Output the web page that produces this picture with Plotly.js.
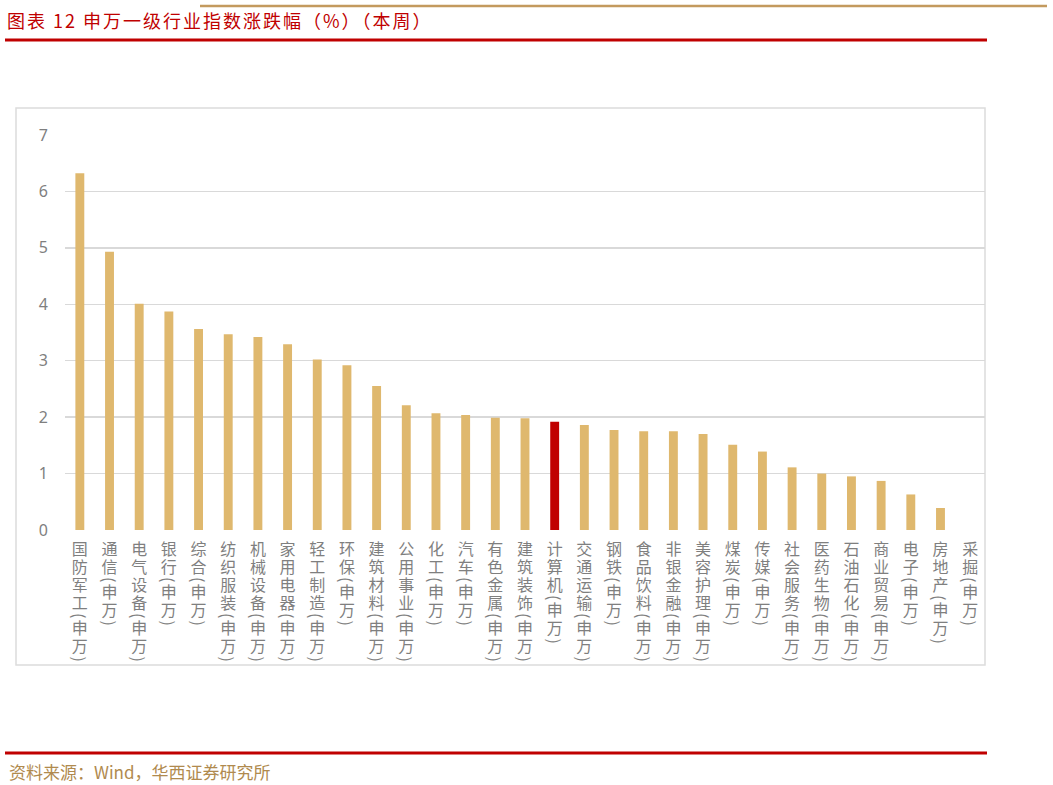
<!DOCTYPE html>
<html>
<head>
<meta charset="utf-8">
<script src="https://cdn.plot.ly/plotly-3.0.1.min.js"></script>
<style>
  html, body { margin: 0; padding: 0; background: #ffffff; }
  #chart { width: 1053px; height: 785px; }
</style>
</head>
<body>
<div id="chart"></div>
<script>
// ---- data ----
var categories = ['国防军工(申万)', '通信(申万)', '电气设备(申万)', '银行(申万)', '综合(申万)',
  '纺织服装(申万)', '机械设备(申万)', '家用电器(申万)', '轻工制造(申万)', '环保(申万)',
  '建筑材料(申万)', '公用事业(申万)', '化工(申万)', '汽车(申万)', '有色金属(申万)',
  '建筑装饰(申万)', '计算机(申万)', '交通运输(申万)', '钢铁(申万)', '食品饮料(申万)',
  '非银金融(申万)', '美容护理(申万)', '煤炭(申万)', '传媒(申万)', '社会服务(申万)',
  '医药生物(申万)', '石油石化(申万)', '商业贸易(申万)', '电子(申万)', '房地产(申万)', '采掘(申万)'];
var weeklyChange = [6.32, 4.93, 4.01, 3.87, 3.56, 3.47, 3.42, 3.29, 3.02, 2.92,
  2.55, 2.21, 2.07, 2.04, 1.99, 1.98, 1.92, 1.86, 1.77, 1.75,
  1.75, 1.70, 1.51, 1.39, 1.11, 1.00, 0.95, 0.87, 0.63, 0.39, 0.00];
var highlightCategory = '计算机(申万)';
var yTickVals = [0, 1, 2, 3, 4, 5, 6, 7];
var titleText = '图表 12 申万一级行业指数涨跌幅（%）（本周）';
var sourceText = '资料来源：Wind，华西证券研究所';

// ---- styles ----
var W = 1053, H = 785;
var M = {l: 65, r: 68, t: 135, b: 255};
var PW = W - M.l - M.r, PH = H - M.t - M.b;
function px2x(px) { return (px - M.l) / PW; }
function py2y(py) { return (H - M.b - py) / PH; }
var FONT = "'Noto Sans CJK SC', 'Noto Sans', sans-serif";
var BAR = '#dfb86e', HL = '#c00000';

var colors = categories.map(function (c) { return c === highlightCategory ? HL : BAR; });

var trace = {
  type: 'bar',
  x: categories,
  y: weeklyChange,
  marker: {color: colors, line: {width: 0}},
  width: 0.3,
  hoverinfo: 'skip'
};

var layout = {
  width: W, height: H,
  margin: M,
  paper_bgcolor: '#ffffff',
  plot_bgcolor: '#ffffff',
  showlegend: false,
  font: {family: FONT, color: '#7f7f7f'},
  title: {
    text: titleText,
    font: {family: FONT, size: 18, color: '#c00000'},
    xref: 'container', yref: 'container',
    x: 7 / W, y: 1 - 22 / H, xanchor: 'left', yanchor: 'middle'
  },
  xaxis: {
    type: 'category',
    categoryorder: 'array', categoryarray: categories,
    tickvals: categories, ticktext: categories,
    tickangle: 0,
    tickfont: {family: FONT, size: 16, color: '#7f7f7f'},
    showgrid: false, zeroline: false, showline: false, ticks: '',
    range: [-0.5, categories.length - 0.5]
  },
  yaxis: {
    range: [0, 7],
    tickvals: yTickVals,
    ticktext: yTickVals.map(String),
    tickfont: {family: "'Noto Sans', 'DejaVu Sans', sans-serif", size: 16, color: '#7f7f7f'},
    showgrid: true, gridcolor: '#d9d9d9', gridwidth: 1.3,
    zeroline: false, showline: false, ticks: '',
    ticklabelstandoff: 16
  },
  shapes: [
    // chart frame
    {type: 'rect', xref: 'paper', yref: 'paper', layer: 'below',
     x0: px2x(16), x1: px2x(985), y0: py2y(665), y1: py2y(108),
     line: {color: '#dcdcdc', width: 1.5}, fillcolor: 'rgba(0,0,0,0)'},
    // top tan rule
    {type: 'line', xref: 'paper', yref: 'paper',
     x0: px2x(200), x1: px2x(1047), y0: py2y(6), y1: py2y(6),
     line: {color: '#c39a5e', width: 2.5}},
    // red rule under the title
    {type: 'line', xref: 'paper', yref: 'paper',
     x0: px2x(5), x1: px2x(987), y0: py2y(40), y1: py2y(40),
     line: {color: '#c00000', width: 3}},
    // red rule above the source
    {type: 'line', xref: 'paper', yref: 'paper',
     x0: px2x(5), x1: px2x(987), y0: py2y(753), y1: py2y(753),
     line: {color: '#c00000', width: 3}}
  ],
  annotations: [
    {text: sourceText, xref: 'paper', yref: 'paper',
     x: px2x(7), y: py2y(771), xanchor: 'left', yanchor: 'middle',
     showarrow: false, font: {family: FONT, size: 17, color: '#b08a4e'}}
  ]
};

function verticalLabels() {
  var gd = document.getElementById('chart');
  var xa = gd._fullLayout.xaxis, ya = gd._fullLayout.yaxis;
  var top = ya._offset + ya._length + 11;
  var texts = gd.querySelectorAll('.xtick text');
  texts.forEach(function (t) {
    var label = t.getAttribute('data-unformatted') || t.textContent;
    var idx = categories.indexOf(label);
    if (idx < 0) idx = categories.indexOf(t.textContent);
    if (idx < 0) return;
    var px = xa._offset + xa.l2p(idx);
    t.removeAttribute('transform');
    t.removeAttribute('dy');
    t.setAttribute('x', px);
    t.setAttribute('y', top);
    t.setAttribute('text-anchor', 'start');
    t.style.writingMode = 'vertical-rl';
    t.style.textOrientation = 'mixed';
    t.style.letterSpacing = '2px';
  });
  var tt = gd.querySelector('.gtitle');
  if (tt) tt.style.letterSpacing = '2px';
}

Plotly.newPlot('chart', [trace], layout, {displayModeBar: false, staticPlot: true}).then(function (gd) {
  verticalLabels();
  gd.on('plotly_afterplot', verticalLabels);
});
</script>
</body>
</html>
